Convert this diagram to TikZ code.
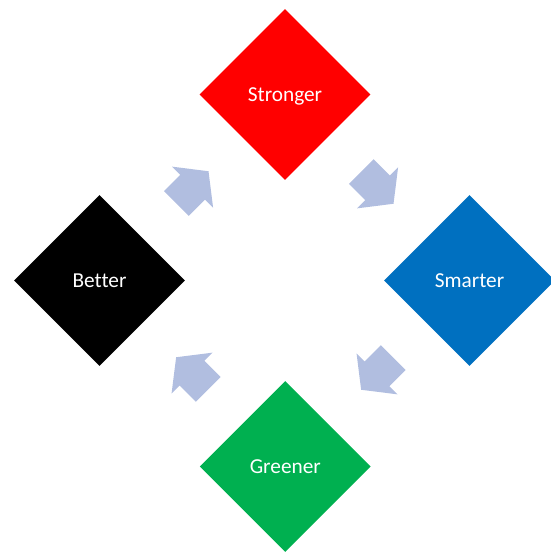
\documentclass[tikz,border=0pt]{standalone}
\usepackage{fontspec}
\setmainfont[Ligatures=NoCommon]{Carlito}
\usetikzlibrary{shapes.geometric,calc}

\definecolor{cycRed}{HTML}{FF0000}
\definecolor{cycBlue}{HTML}{0070C0}
\definecolor{cycGreen}{HTML}{00B050}
\definecolor{cycBlack}{HTML}{000000}
\definecolor{cycArrow}{HTML}{B1BEE0}

\tikzset{
  stage/.style={diamond, aspect=1, inner sep=0pt, minimum width=171pt,
    minimum height=171pt, text=white, text height=18.2pt, text depth=4.5pt,
    font=\fontsize{21.3}{25}\selectfont},
  % block arrow pointing along the local x axis, centred on its origin
  cycarrow/.pic={
    \fill[cycArrow] (-22.5pt,-17.5pt) -- (0.5pt,-17.5pt) -- (0.5pt,-29pt)
      -- (23pt,0pt) -- (0.5pt,29pt) -- (0.5pt,17.5pt) -- (-22.5pt,17.5pt) -- cycle;
  }
}

\begin{document}
\begin{tikzpicture}[x=1pt,y=-1pt]
  \useasboundingbox (0,0) rectangle (551,552);
  \clip (0,0) rectangle (551,552);

  \node[stage, fill=cycRed]   (stronger) at (285,94.5)  {Stronger};
  \node[stage, fill=cycBlue]  (smarter)  at (469.5,280.5) {Smarter};
  \node[stage, fill=cycGreen] (greener)  at (285.3,466.5) {Greener};
  \node[stage, fill=cycBlack] (better)   at (99.5,280.5)  {Better};

  % arrows between consecutive stages (rotation in page orientation)
  \pic[rotate=45]   at ($(better)!0.5!(stronger)$)  {cycarrow};
  \pic[rotate=-45]  at ($(stronger)!0.5!(smarter)$) {cycarrow};
  \pic[rotate=-135] at ($(smarter)!0.5!(greener)$)  {cycarrow};
  \pic[rotate=135]  at ($(greener)!0.5!(better)$)   {cycarrow};
\end{tikzpicture}
\end{document}
